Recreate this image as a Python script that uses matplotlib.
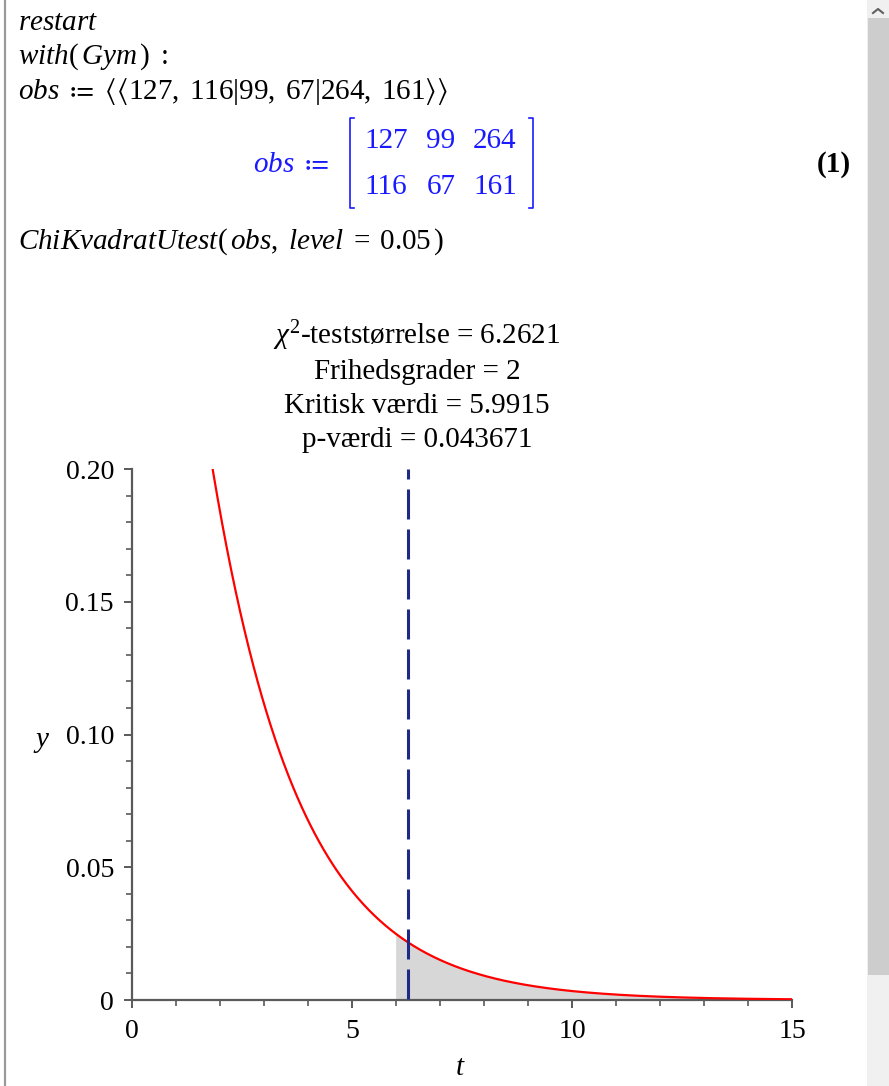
"""Maple-arbeitsark: chi-i-anden uafhængighedstest (Gym-pakken) med fordelingsplot."""
import numpy as np
import matplotlib
matplotlib.use("Agg")
import matplotlib.pyplot as plt
from matplotlib.patches import Rectangle
from matplotlib.lines import Line2D

plt.rcParams["font.family"] = ["Liberation Serif", "DejaVu Serif"]
plt.rcParams["mathtext.fontset"] = "custom"
plt.rcParams["mathtext.rm"] = "Liberation Serif"
plt.rcParams["mathtext.it"] = "Liberation Serif:italic"
plt.rcParams["mathtext.bf"] = "Liberation Serif:bold"
plt.rcParams["mathtext.fallback"] = "stix"
plt.rcParams["lines.scale_dashes"] = False

# observationsmatrix og testresultater
OBS_ROW1 = [127, 99, 264]
OBS_ROW2 = [116, 67, 161]
TEST_STAT = 6.2621
DF = 2
CRIT = 5.9915
P_VALUE = 0.043671
LEVEL = 0.05

X_TICKS = [0, 5, 10, 15]
X_LABELS = ["0", "5", "10", "15"]
Y_TICKS = [0, 0.05, 0.10, 0.15, 0.20]
Y_LABELS = ["0", "0.05", "0.10", "0.15", "0.20"]

W, H = 889, 1086
BLUE = "#1a1aff"
FS = 21
fig = plt.figure(figsize=(W / 100, H / 100), dpi=100)


def px(x, y):
    return x / W, 1 - y / H


def put(x, y, s, **kw):
    kw.setdefault("fontsize", FS)
    kw.setdefault("va", "baseline")
    fig.text(*px(x, y), s, **kw)


# venstre gruppeklamme
fig.add_artist(Line2D([5 / W, 5 / W], [0, 1], color="#9a9a9a", lw=1.6))

# scrollbar
fig.add_artist(Rectangle(px(867, H), 22 / W, 1, color="#f0f0f0", lw=0))
fig.add_artist(Rectangle(px(868, 975), 21 / W, (975 - 18) / H, color="#cdcdcd", lw=0))
fig.add_artist(Line2D([873 / W, 878 / W, 883 / W], [1 - 13 / H, 1 - 9 / H, 1 - 13 / H],
                      color="#606060", lw=1.5))

# kommandolinjer
put(18, 30, "$restart$")
put(18, 64, r"$with(\,Gym\,)\ :$")
obs_list = (rf"{OBS_ROW1[0]},\;{OBS_ROW2[0]}|{OBS_ROW1[1]},\;{OBS_ROW2[1]}"
            rf"|{OBS_ROW1[2]},\;{OBS_ROW2[2]}")
put(18, 99, r"$obs\ \coloneq\ \langle\langle\mathrm{" + obs_list + r"}\rangle\rangle$")

# output (1): matrixen
put(253, 172, r"$obs\ \coloneq$", color=BLUE)
fig.add_artist(Line2D([354 / W, 350 / W, 350 / W, 354 / W],
                      [1 - 118 / H, 1 - 118 / H, 1 - 208 / H, 1 - 208 / H], color=BLUE, lw=1.2))
fig.add_artist(Line2D([529 / W, 533 / W, 533 / W, 529 / W],
                      [1 - 118 / H, 1 - 118 / H, 1 - 208 / H, 1 - 208 / H], color=BLUE, lw=1.2))
for cx, a, b in zip([386, 441, 495], OBS_ROW1, OBS_ROW2):
    put(cx, 148, str(a), color=BLUE, ha="center")
    put(cx, 194, str(b), color=BLUE, ha="center")
put(834, 172, "(1)", ha="center", fontweight="bold")

put(18, 249, r"$ChiKvadratUtest(\,obs,\;level\;\mathrm{=\;" + f"{LEVEL}" + r"}\,)$")

# titel over plottet
put(417, 344, rf"$\chi^2$-teststørrelse = {TEST_STAT}", ha="center")
put(417, 379, f"Frihedsgrader = {DF}", ha="center")
put(417, 413, f"Kritisk værdi = {CRIT}", ha="center")
put(417, 447, f"p-værdi = {P_VALUE}", ha="center")

# tæthedsfunktion for chi-i-anden med DF = 2 frihedsgrader
t = np.linspace(0, 15, 600)
y = np.exp(-t / DF) / DF

ax = fig.add_axes([132 / W, 1 - 1000 / H, (792 - 132) / W, (1000 - 469) / H])
mask = t >= CRIT
ax.fill_between(np.r_[CRIT, t[mask]], 0, np.r_[np.exp(-CRIT / DF) / DF, y[mask]],
                color="#d7d7d7", lw=0, zorder=1)
ax.plot(t, y, color="#ff0000", lw=1.6, zorder=3)
ax.plot([TEST_STAT, TEST_STAT], [0.2, 0], color="#1c2a86", lw=2.2, zorder=4,
        linestyle=(14.4, (21.6, 7.2)))

ax.set_xlim(0, 15)
ax.set_ylim(0, 0.2)
for side in ("top", "right"):
    ax.spines[side].set_visible(False)
for side in ("left", "bottom"):
    ax.spines[side].set_color("#5a5a5a")
    ax.spines[side].set_linewidth(1.6)
    ax.spines[side].set_zorder(2)
ax.set_xticks(X_TICKS, X_LABELS)
ax.set_yticks(Y_TICKS, Y_LABELS)
ax.set_xticks(np.arange(0, 16, 1), minor=True)
ax.set_yticks(np.arange(0, 0.201, 0.01), minor=True)
ax.tick_params(which="major", length=6, width=1.4, color="#5a5a5a", labelsize=20, pad=8)
ax.tick_params(which="minor", length=4, width=1.2, color="#5a5a5a")
ax.tick_params(axis="y", pad=7)
ax.patch.set_visible(False)

put(42, 747, "$y$", ha="center")
put(460, 1075, "$t$", ha="center")

fig.savefig("out.png", dpi=100)
